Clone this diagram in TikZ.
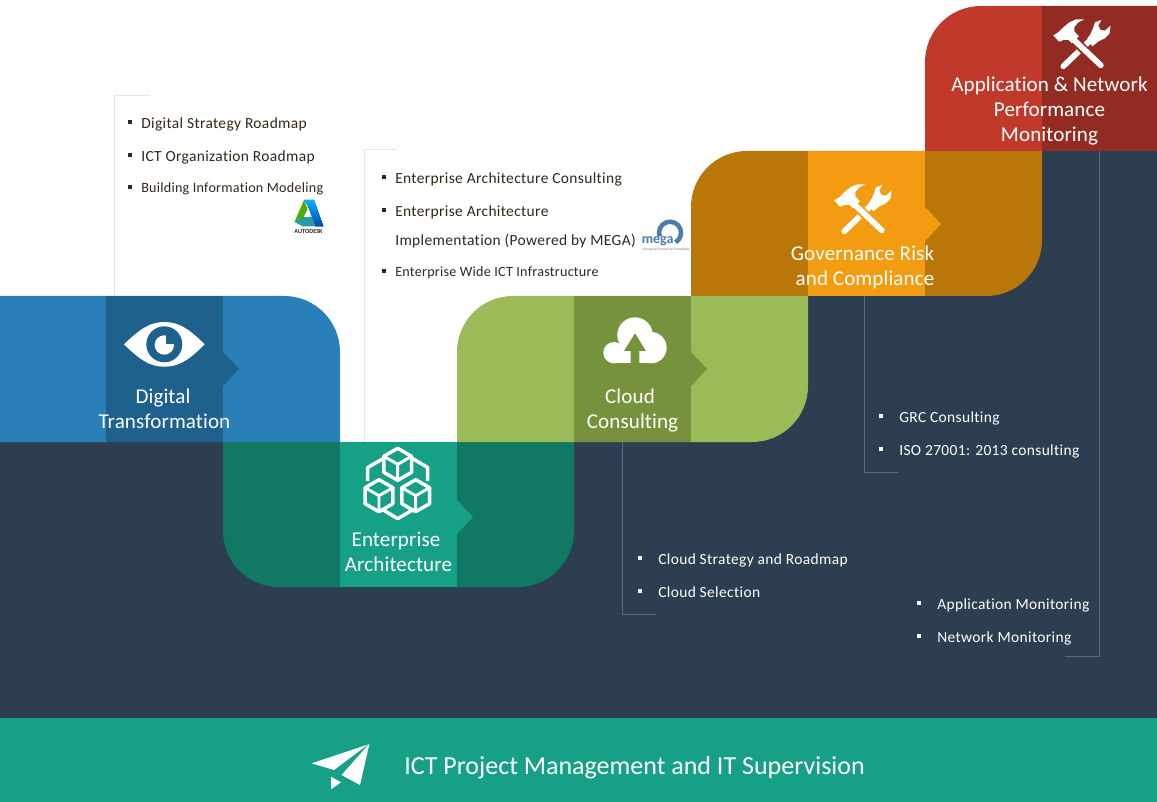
\documentclass[tikz,border=0pt]{standalone}
\usepackage{fontspec}
\setmainfont{Carlito}[Ligatures=NoCommon]
\definecolor{navy}{HTML}{2C3E50}
\definecolor{blueA}{HTML}{2980B9}
\definecolor{blueB}{HTML}{1F618D}
\definecolor{tealA}{HTML}{16A085}
\definecolor{tealB}{HTML}{117864}
\definecolor{greenA}{HTML}{9BBB59}
\definecolor{greenB}{HTML}{76923C}
\definecolor{orangeA}{HTML}{F39C12}
\definecolor{orangeB}{HTML}{B9770A}
\definecolor{redA}{HTML}{C0392B}
\definecolor{redB}{HTML}{922B21}
\definecolor{ink}{HTML}{33261A}
\definecolor{treeL}{HTML}{E6E8E8}
\definecolor{treeD}{HTML}{4F6D8F}
\definecolor{megaB}{HTML}{4F7CAC}
\tikzset{
  heading/.style={text=white,font=\fontsize{15.8pt}{18.75pt}\selectfont\addfontfeatures{LetterSpace=0.5},align=center,anchor=base,inner sep=0pt},
  itemD/.style={text=ink,font=\fontsize{11.6pt}{13pt}\selectfont\addfontfeatures{LetterSpace=2.3},anchor=base west,inner sep=0pt},
  itemDs/.style={text=ink,font=\fontsize{10.6pt}{13pt}\selectfont\addfontfeatures{LetterSpace=1.8},anchor=base west,inner sep=0pt},
  itemW/.style={text=white,font=\fontsize{11.6pt}{13pt}\selectfont\addfontfeatures{LetterSpace=2.3},anchor=base west,inner sep=0pt},
  bulD/.style={fill=ink,minimum size=3.6pt,inner sep=0pt},
  bulW/.style={fill=white,minimum size=3.6pt,inner sep=0pt},
  treeLight/.style={draw=treeL,line width=0.75pt},
  treeDark/.style={draw=treeD,line width=0.6pt},
}
\newcommand{\toolicon}[3]{%
  \begin{scope}[shift={(#1,#2)}]
    \draw[white,line width=4.3pt,line cap=round] (10,47) -- (37,21);
    \fill[white] (34,19) -- (36.7,15.7) -- (39.7,9) -- (41.7,3) -- (48,0.7) -- (45,6.3) -- (47.3,10.7) -- (51.7,11.3) -- (57.3,6.3) -- (56.3,14) -- (51.7,19) -- (45.7,21.7) -- (39,27) -- cycle;
    \draw[#3,line width=7pt] (23,23) -- (35,34.5);
    \draw[white,line width=4.3pt,line cap=round] (20,20) -- (47.5,46);
    \fill[white] (0,16) -- (5,13) -- (9,9) -- (16,3) -- (23,0) -- (31,0) -- (25,3) -- (21,8) -- (21,12) -- (25.5,17) -- (18.5,24) -- (15,20.5) -- (10.5,20.5) -- (6.5,22.3) -- (5,21.7) -- cycle;
  \end{scope}}
\newcommand{\cube}[2]{%
  \begin{scope}[shift={(#1,#2)}]
    \draw[white,line width=2.6pt,line join=round] (0,-16) -- (13.9,-8) -- (13.9,8) -- (0,16) -- (-13.9,8) -- (-13.9,-8) -- cycle;
    \draw[white,line width=2.2pt] (-13.9,-8) -- (0,0) -- (13.9,-8) (0,0) -- (0,16);
  \end{scope}}
\begin{document}
\begin{tikzpicture}[x=0.75pt,y=-0.75pt]
\useasboundingbox (0,0) rectangle (1157,802);
\fill[white] (0,0) rectangle (1157,802);
% dark staircase
\fill[navy] (0,442) -- (752,442) -- (752,386) -- (808,386) -- (808,296) -- (986,296) -- (986,240) -- (1042,240) -- (1042,151) -- (1157,151) -- (1157,718) -- (0,718) -- cycle;
\fill[tealA] (0,718) rectangle (1157,802);
% trees
\coordinate (t1a) at (150,96); \coordinate (t1b) at (114.5,96); \coordinate (t1c) at (114.5,296);
\draw[treeLight] (t1a) -- (t1b) -- (t1c);
\coordinate (t2a) at (397,150); \coordinate (t2b) at (364.5,150); \coordinate (t2c) at (364.5,442);
\draw[treeLight] (t2a) -- (t2b) -- (t2c);
\coordinate (t3a) at (622.5,442); \coordinate (t3b) at (622.5,614.5); \coordinate (t3c) at (656,614.5);
\draw[treeDark] (t3a) -- (t3b) -- (t3c);
\coordinate (t4a) at (864.5,296); \coordinate (t4b) at (864.5,472.5); \coordinate (t4c) at (898,472.5);
\draw[treeDark] (t4a) -- (t4b) -- (t4c);
\coordinate (t5a) at (1099.5,151); \coordinate (t5b) at (1099.5,656.5); \coordinate (t5c) at (1065,656.5);
\draw[treeDark] (t5a) -- (t5b) -- (t5c);
% blue
\fill[blueA] (0,296) -- (284,296) .. controls (315,296) and (340,321) .. (340,352) -- (340,442) -- (0,442) -- cycle;
\fill[blueB] (106,296) rectangle (223,442);
\fill[blueB] (223,352) -- (239,369) -- (223,386) -- cycle;
% teal
\fill[tealB] (223,442) -- (574,442) -- (574,531) .. controls (574,562) and (549,587) .. (518,587) -- (279,587) .. controls (248,587) and (223,562) .. (223,531) -- cycle;
\fill[tealA] (340,442) rectangle (457,587);
\fill[tealA] (457,500) -- (473,517) -- (457,534) -- cycle;
% green
\fill[greenA] (513,296) -- (808,296) -- (808,386) .. controls (808,417) and (783,442) .. (752,442) -- (457,442) -- (457,352) .. controls (457,321) and (482,296) .. (513,296) -- cycle;
\fill[greenB] (574,296) rectangle (691,442);
\fill[greenB] (691,352) -- (707,369) -- (691,386) -- cycle;
% orange
\fill[orangeB] (747,151) -- (1042,151) -- (1042,240) .. controls (1042,271) and (1017,296) .. (986,296) -- (691,296) -- (691,207) .. controls (691,176) and (716,151) .. (747,151) -- cycle;
\fill[orangeA] (808,151) rectangle (925,296);
\fill[orangeA] (925,207) -- (941,224) -- (925,241) -- cycle;
% red
\fill[redA] (981,6) -- (1157,6) -- (1157,151) -- (925,151) -- (925,62) .. controls (925,31) and (950,6) .. (981,6) -- cycle;
\fill[redB] (1042,6) rectangle (1157,151);
% eye
\fill[white] (124,344.3) .. controls (140,329) and (150,322) .. (164.3,322) .. controls (179,322) and (189,329) .. (204.7,344.3) .. controls (189,360) and (179,366.7) .. (164.3,366.7) .. controls (150,366.7) and (140,360) .. (124,344.3) -- cycle;
\fill[blueB] (164.3,344.3) circle[radius=18];
\fill[white] (164.3,345) circle[radius=9.7];
\fill[blueB] (165.5,333) rectangle (176,344);
% cubes
\draw[white,line width=2.6pt,line join=round] (383.3,458.5) -- (367.7,467.5) -- (367.7,481);
\draw[white,line width=2.6pt,line join=round] (412.5,458.5) -- (427.7,467.5) -- (427.7,481);
\draw[white,line width=2.6pt,line join=round] (383.3,510) -- (397.7,518.7) -- (412.5,510);
\cube{397.7}{464.3}
\cube{379}{495.7}
\cube{415.7}{495.7}
% cloud
\fill[white] (614,352.7) circle[radius=10.7];
\fill[white] (635,335) circle[radius=17.7];
\fill[white] (651,347.7) circle[radius=15.7];
\fill[white] (614,345) rectangle (651,363.3);
\fill[greenB] (635,333.3) -- (646,351) -- (639.4,351) -- (639.4,364) -- (630.7,364) -- (630.7,351) -- (624,351) -- cycle;
% tools
\toolicon{834.3}{184.3}{orangeA}
\toolicon{1053.3}{19.3}{redB}
% plane
\fill[white] (311.7,763.3) -- (368,744.5) -- (334,770) -- cycle;
\fill[white] (369.5,743.5) -- (360,785) -- (341.5,775) -- cycle;
\fill[white] (331,776.7) -- (341,782.3) -- (331,789.3) -- cycle;
% autodesk logo
\fill[top color=black!0!cyan!70!blue,bottom color=blue!60!cyan!70!black] (304,200) -- (314,200) -- (323.5,226.5) -- (315.5,226.5) -- (308,206) -- cycle;
\fill[green!55!black!70!yellow] (304,200) -- (307.5,209) -- (303,218) -- (294.5,222) -- cycle;
\fill[cyan!70!green!80!black] (294.5,222) -- (303,217) -- (312,217) -- (315.5,226.5) -- (303,226.5) -- cycle;
\node[text=ink,font=\fontsize{4.7pt}{5pt}\selectfont\bfseries,inner sep=0pt] (adsk) at (308.5,231) {AUTODESK};
% mega logo
\draw[megaB,line width=3.4pt] (659.7,236.5) arc[start angle=160,end angle=420,radius=11];
\node[text=megaB,font=\fontsize{10.5pt}{11pt}\selectfont\bfseries,anchor=base west,inner sep=0pt] (mega) at (641.5,243.5) {mega};
\node[text=gray,font=\fontsize{2.7pt}{3pt}\selectfont,anchor=base west,inner sep=0pt] (megasub) at (642,250.5) {Managing Enterprise Complexity};
% headings
\node[heading] (h1a) at (163,403) {Digital};
\node[heading] (h1b) at (164.5,428) {Transformation};
\node[heading] (h2a) at (396,546) {Enterprise};
\node[heading] (h2b) at (398.5,571) {Architecture};
\node[heading] (h3a) at (630,403) {Cloud};
\node[heading] (h3b) at (632.5,428) {Consulting};
\node[heading] (h4a) at (862.5,261) {Governance Risk};
\node[heading] (h4b) at (865,286) {and Compliance};
\node[heading] (h5a) at (1049.5,92) {Application \& Network};
\node[heading] (h5b) at (1049.5,117) {Performance};
\node[heading] (h5c) at (1049.5,142) {Monitoring};
\node[text=white,font=\fontsize{19.5pt}{22pt}\selectfont,anchor=base west,inner sep=0pt] (foot) at (404,774) {ICT Project Management and IT Supervision};
% lists
\node[bulD] (b11) at (130,122) {}; \node[itemD] (i11) at (141,128.5) {Digital Strategy Roadmap};
\node[bulD] (b12) at (130,155) {}; \node[itemD] (i12) at (141,161.5) {ICT Organization Roadmap};
\node[bulD] (b13) at (130,187) {}; \node[itemDs] (i13) at (141,192.5) {Building Information Modeling};
\node[bulD] (b21) at (384,177) {}; \node[itemD] (i21) at (395,183.5) {Enterprise Architecture Consulting};
\node[bulD] (b22) at (384,210) {}; \node[itemD] (i22) at (395,216.5) {Enterprise Architecture};
\node[itemD] (i23) at (395,245.5) {Implementation (Powered by MEGA)};
\node[bulD] (b24) at (384,271) {}; \node[itemDs] (i24) at (395,276.5) {Enterprise Wide ICT Infrastructure};
\node[bulW] (b31) at (640,558) {}; \node[itemW] (i31) at (658,564.5) {Cloud Strategy and Roadmap};
\node[bulW] (b32) at (640,591) {}; \node[itemW] (i32) at (658,597.5) {Cloud Selection};
\node[bulW] (b41) at (881,416) {}; \node[itemW] (i41) at (899,422.5) {GRC Consulting};
\node[bulW] (b42) at (881,449) {}; \node[itemW] (i42) at (899,455.5) {ISO 27001: 2013 consulting};
\node[bulW] (b51) at (919,603) {}; \node[itemW] (i51) at (937,609.5) {Application Monitoring};
\node[bulW] (b52) at (919,636) {}; \node[itemW] (i52) at (937,642.5) {Network Monitoring};
\end{tikzpicture}
\end{document}
